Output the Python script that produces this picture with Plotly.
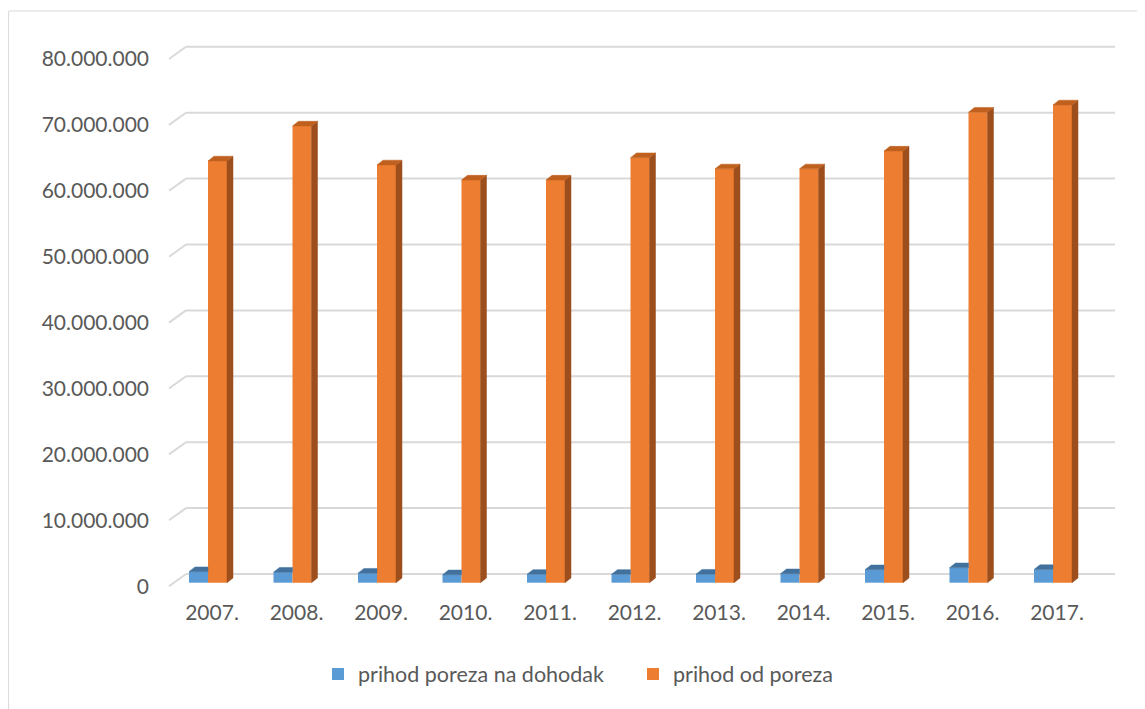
import plotly.graph_objects as go

# ---------------- data ----------------
years = ["2007.", "2008.", "2009.", "2010.", "2011.", "2012.",
         "2013.", "2014.", "2015.", "2016.", "2017."]
prihod_poreza_na_dohodak = [1.67e6, 1.60e6, 1.45e6, 1.20e6, 1.27e6, 1.27e6,
                            1.30e6, 1.36e6, 1.97e6, 2.27e6, 2.00e6]
prihod_od_poreza = [64.0e6, 69.3e6, 63.4e6, 61.1e6, 61.1e6, 64.5e6,
                    62.8e6, 62.8e6, 65.5e6, 71.4e6, 72.5e6]
y_ticks = [0, 10e6, 20e6, 30e6, 40e6, 50e6, 60e6, 70e6, 80e6]

# ---------------- layout geometry (page pixels) ----------------
W, H = 1145, 709
OFF = 8                 # page body margin
Y0 = 582.7              # pixel of value 0 on the bar plane
PXU = 65.9 / 1e7        # pixels per unit of value
X0 = 208.0              # pixel of first category centre
DXC = 84.5              # pixels per category
L, R, T, B = 150, 1130, 30, 598

def fx(px):
    return (px - OFF) / W

def fy(py):
    return 1 - (py - OFF) / H

def xd(px):
    return (px - X0) / DXC

def yd(py):
    return (Y0 - py) / PXU

BAR_W = 19 / DXC
DDX = 6 / DXC           # bar depth (x)
DDY = 4.7 / PXU         # bar depth (y)
BACK_DY = 8.7 / PXU     # back wall offset
FRONT_DY = -3.5 / PXU   # front edge offset

C_BLUE, C_BLUE_TOP = "#5b9bd5", "#41719c"
C_OR, C_OR_TOP, C_OR_SIDE = "#ed7d31", "#c0601f", "#9c4f1c"
TXT = "#595959"
FONT = "Lato"

idx = list(range(len(years)))

fig = go.Figure()
fig.add_trace(go.Bar(x=idx, y=prihod_poreza_na_dohodak, width=BAR_W, offset=-BAR_W,
                     marker=dict(color=C_BLUE, line=dict(width=0)),
                     name="prihod poreza na dohodak"))
fig.add_trace(go.Bar(x=idx, y=prihod_od_poreza, width=BAR_W, offset=0,
                     marker=dict(color=C_OR, line=dict(width=0)),
                     name="prihod od poreza"))

# 3D faces
bx, by = [], []
for i, v in zip(idx, prihod_poreza_na_dohodak):
    xl, xr = i - BAR_W, i
    bx += [xl, xr, xr, xl + DDX, xl, None]
    by += [v, v, v + DDY, v + DDY, v, None]
ox_s, oy_s, ox_t, oy_t = [], [], [], []
for i, v in zip(idx, prihod_od_poreza):
    xl, xr = i, i + BAR_W
    ox_s += [xr, xr, xr + DDX, xr + DDX, xr, None]
    oy_s += [0, v, v + DDY, DDY, 0, None]
    ox_t += [xl, xr, xr + DDX, xl + DDX, xl, None]
    oy_t += [v, v, v + DDY, v + DDY, v, None]

for xs, ys, col in [(bx, by, C_BLUE_TOP), (ox_s, oy_s, C_OR_SIDE), (ox_t, oy_t, C_OR_TOP)]:
    fig.add_trace(go.Scatter(x=xs, y=ys, mode="lines", fill="toself", fillcolor=col,
                             line=dict(color=col, width=0.5), showlegend=False,
                             hoverinfo="skip"))

# dummy trace to carry the front tick axis
fig.add_trace(go.Scatter(x=[None], y=[None], yaxis="y2", showlegend=False, hoverinfo="skip"))

shapes = []
for v in y_ticks:
    shapes.append(dict(type="line", xref="paper", yref="y", layer="below",
                       x0=fx(186), x1=fx(1115), y0=v + BACK_DY, y1=v + BACK_DY,
                       line=dict(color="#d9d9d9", width=2)))
    shapes.append(dict(type="line", xref="paper", yref="y", layer="below",
                       x0=fx(169), x1=fx(186), y0=v + FRONT_DY, y1=v + BACK_DY,
                       line=dict(color="#d9d9d9", width=2)))
shapes.append(dict(type="rect", xref="paper", yref="paper", layer="below",
                   x0=0.6 / W, x1=1.02, y0=1 - 3 / H, y1=-0.02,
                   line=dict(color="#d9d9d9", width=1)))

yr = [yd(B), yd(T)]
fig.update_layout(
    width=W, height=H,
    margin=dict(l=0, r=0, t=0, b=0),
    paper_bgcolor="white", plot_bgcolor="rgba(0,0,0,0)",
    separators=",.",
    font=dict(family=FONT, size=21, color=TXT),
    barmode="overlay",
    hovermode=False,
    shapes=shapes,
    xaxis=dict(domain=[fx(L), fx(R)], range=[xd(L), xd(R)], tickvals=idx, ticktext=years,
               showgrid=False, zeroline=False, showline=False, ticks="",
               ticklabelshift=4,
               tickfont=dict(family=FONT, size=21, color=TXT)),
    yaxis=dict(domain=[fy(B), fy(T)], range=yr, showgrid=False, zeroline=False,
               showline=False, showticklabels=False, ticks=""),
    yaxis2=dict(overlaying="y", anchor="free", position=fx(149), side="left",
                range=[yr[0] - FRONT_DY, yr[1] - FRONT_DY], tickvals=y_ticks,
                tickformat=",d", showgrid=False, zeroline=False, showline=False, ticks="",
                tickfont=dict(family=FONT, size=21, color=TXT)),
    legend=dict(orientation="h", x=310 / W, xanchor="left", y=1 - 666 / H, yanchor="middle",
                font=dict(family=FONT, size=21.5, color=TXT), entrywidth=270,
                entrywidthmode="pixels", itemwidth=30, bgcolor="rgba(0,0,0,0)"),
)

fig.write_html("out.html")
